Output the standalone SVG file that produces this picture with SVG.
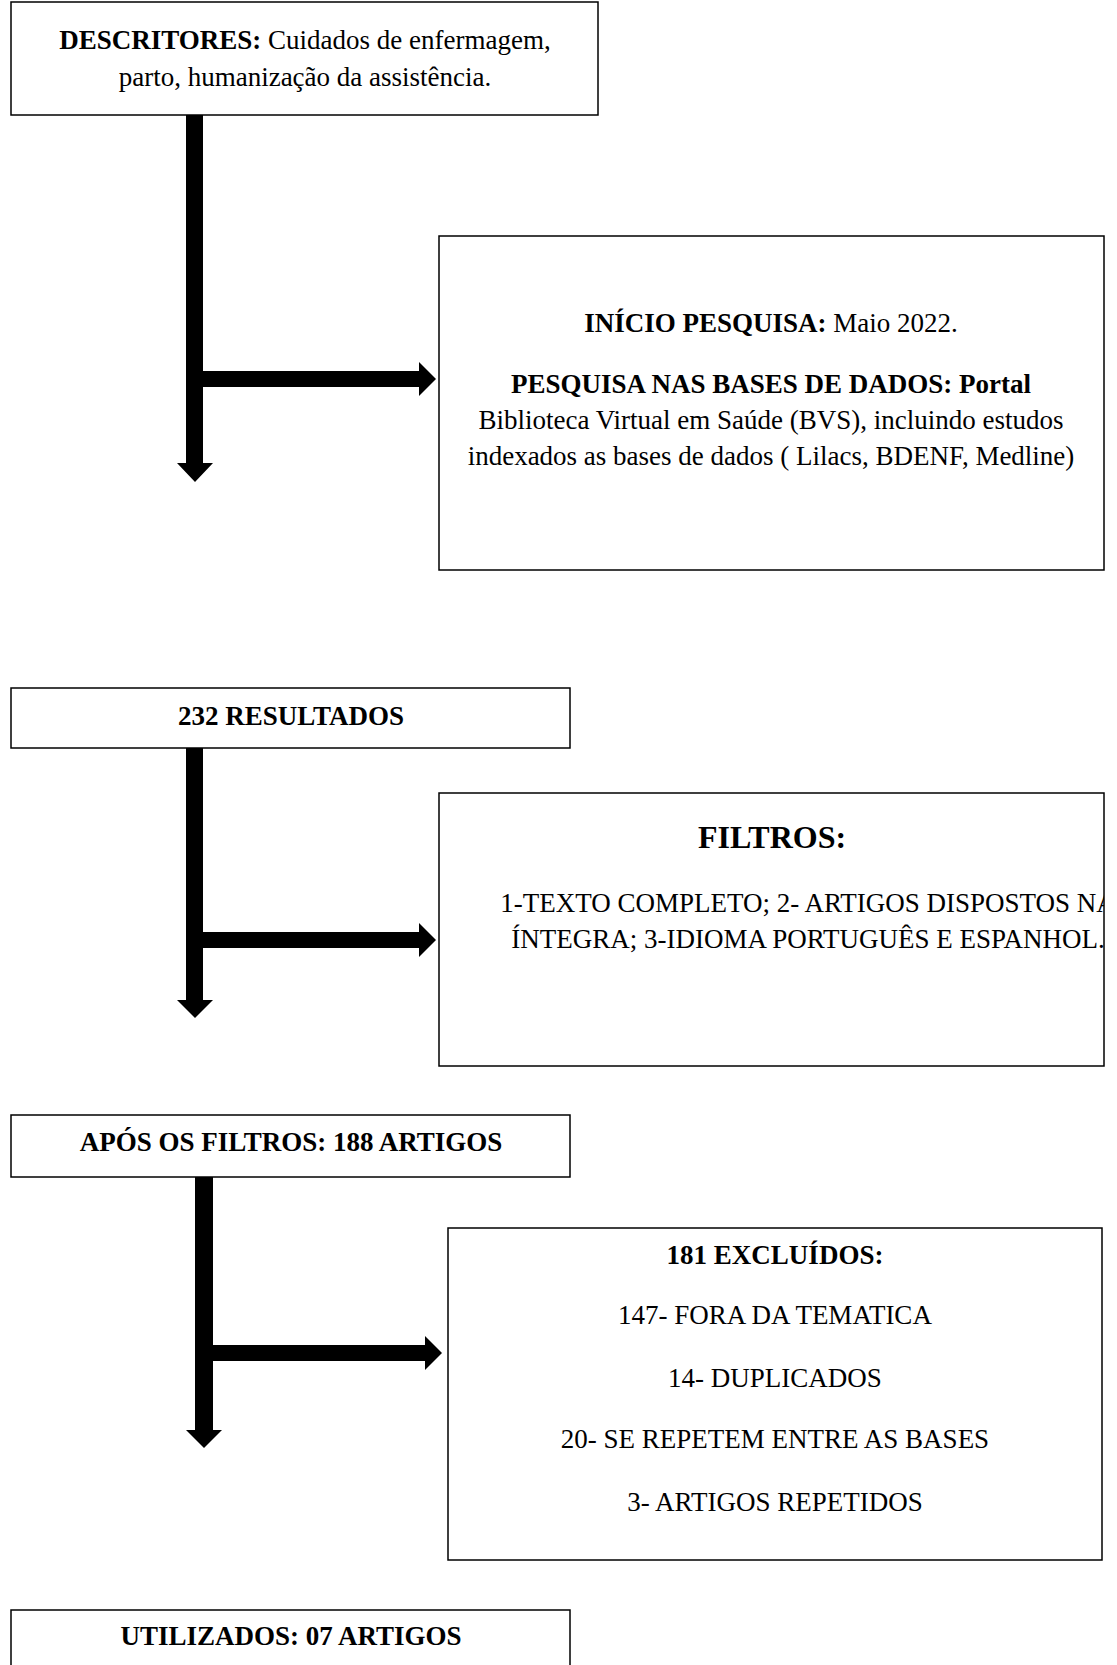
<svg xmlns="http://www.w3.org/2000/svg" width="1117" height="1665" viewBox="0 0 1117 1665">
<style>
.box{fill:#fff;stroke:#000;stroke-width:1.5}
.t{font-family:"Liberation Serif","Times New Roman",serif;font-size:27px;fill:#000;text-anchor:middle}
.b{font-weight:bold}
.h{font-size:32px;font-weight:bold}
.arr{fill:#000}
</style>
<defs>
<clipPath id="clip4"><rect x="439" y="793" width="665" height="273"/></clipPath>
</defs>
<rect width="1117" height="1665" fill="#fff"/>
<g id="connectors">
<path class="arr" d="M186,112 H203 V463 H213 L195,482 L177,463 H186 Z"/>
<path class="arr" d="M203,371 H419 V362 L436,379 L419,396 V387 H203 Z"/>
<path class="arr" d="M186,745 H203 V1000 H213 L195,1018 L177,1000 H186 Z"/>
<path class="arr" d="M203,932 H419 V923 L436,940 L419,957 V948 H203 Z"/>
<path class="arr" d="M195,1177 H213 V1430 H222 L204,1448 L186,1430 H195 Z"/>
<path class="arr" d="M213,1345 H425 V1336 L442,1353 L425,1370 V1361 H213 Z"/>
</g>
<g id="descritores">
<rect class="box" x="11" y="2" width="587" height="113"/>
<text class="t" x="305" y="49"><tspan class="b">DESCRITORES:</tspan> Cuidados de enfermagem,</text>
<text class="t" x="305" y="86">parto, humanização da assistência.</text>
</g>
<g id="inicio">
<rect class="box" x="439" y="236" width="665" height="334"/>
<text class="t" x="771" y="332"><tspan class="b">INÍCIO PESQUISA:</tspan> Maio 2022.</text>
<text class="t b" x="771" y="393">PESQUISA NAS BASES DE DADOS: Portal</text>
<text class="t" x="771" y="429">Biblioteca Virtual em Saúde (BVS), incluindo estudos</text>
<text class="t" x="771" y="465">indexados as bases de dados ( Lilacs, BDENF, Medline)</text>
</g>
<g id="resultados">
<rect class="box" x="11" y="688" width="559" height="60"/>
<text class="t b" x="291" y="725">232 RESULTADOS</text>
</g>
<g id="filtros">
<rect class="box" x="439" y="793" width="665" height="273"/>
<text class="t h" x="772" y="848">FILTROS:</text>
<g clip-path="url(#clip4)">
<text class="t" x="808" y="912">1-TEXTO COMPLETO; 2- ARTIGOS DISPOSTOS NA</text>
<text class="t" x="808" y="948">ÍNTEGRA; 3-IDIOMA PORTUGUÊS E ESPANHOL.</text>
</g>
</g>
<g id="apos">
<rect class="box" x="11" y="1115" width="559" height="62"/>
<text class="t b" x="291" y="1151">APÓS OS FILTROS: 188 ARTIGOS</text>
</g>
<g id="excluidos">
<rect class="box" x="448" y="1228" width="654" height="332"/>
<text class="t b" x="775" y="1264">181 EXCLUÍDOS:</text>
<text class="t" x="775" y="1324">147- FORA DA TEMATICA</text>
<text class="t" x="775" y="1387">14- DUPLICADOS</text>
<text class="t" x="775" y="1448">20- SE REPETEM ENTRE AS BASES</text>
<text class="t" x="775" y="1511">3- ARTIGOS REPETIDOS</text>
</g>
<g id="utilizados">
<rect class="box" x="11" y="1610" width="559" height="80"/>
<text class="t b" x="291" y="1645">UTILIZADOS: 07 ARTIGOS</text>
</g>
</svg>
